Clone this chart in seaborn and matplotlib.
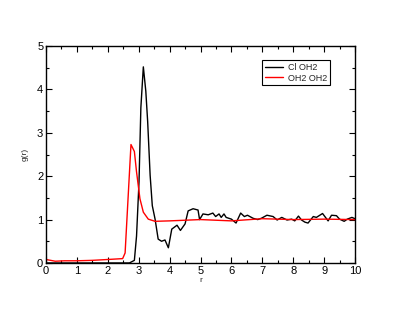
import numpy as np
import pandas as pd
import matplotlib
matplotlib.use("Agg")
import matplotlib.pyplot as plt
import seaborn as sns
from matplotlib.ticker import MultipleLocator

# Cl-OH2 g(r)
cl_r = [0.0, 1.0, 2.0, 2.7, 2.86, 2.93, 3.01, 3.07, 3.15, 3.23, 3.29, 3.37, 3.44, 3.53,
        3.63, 3.74, 3.85, 3.96, 4.07, 4.24, 4.35, 4.5, 4.6, 4.76, 4.92, 4.97, 5.08, 5.25,
        5.4, 5.49, 5.6, 5.67, 5.76, 5.83, 6.0, 6.15, 6.3, 6.42, 6.52, 6.7, 6.85, 6.97,
        7.15, 7.35, 7.48, 7.63, 7.8, 7.95, 8.05, 8.17, 8.27, 8.38, 8.48, 8.65, 8.75, 8.95,
        9.13, 9.24, 9.4, 9.5, 9.65, 9.75, 9.9, 10.0]
cl_g = [0.0, 0.0, 0.0, 0.0, 0.06, 0.62, 1.87, 3.58, 4.52, 3.96, 3.26, 2.02, 1.32, 1.01,
        0.55, 0.5, 0.53, 0.35, 0.78, 0.87, 0.75, 0.9, 1.2, 1.25, 1.22, 1.0, 1.13, 1.11,
        1.15, 1.07, 1.13, 1.05, 1.13, 1.05, 1.01, 0.92, 1.15, 1.07, 1.1, 1.03, 1.0, 1.03,
        1.1, 1.07, 0.99, 1.05, 0.99, 1.01, 0.97, 1.08, 0.99, 0.94, 0.92, 1.07, 1.05, 1.14,
        0.97, 1.1, 1.09, 1.01, 0.96, 1.01, 1.05, 1.02]

# OH2-OH2 g(r)
ow_r = [0.0, 0.15, 0.3, 0.6, 1.0, 1.5, 2.0, 2.48, 2.56, 2.75, 2.86, 2.93, 3.04, 3.15, 3.31,
        3.53, 4.0, 5.0, 6.0, 7.0, 8.0, 9.0, 10.0]
ow_g = [0.08, 0.06, 0.04, 0.05, 0.05, 0.06, 0.08, 0.1, 0.23, 2.73, 2.57, 2.1, 1.48, 1.17,
        1.01, 0.96, 0.97, 1.0, 0.97, 1.02, 1.0, 1.01, 1.0]

labels = ["Cl OH2", "OH2 OH2"]

df = pd.concat([
    pd.DataFrame({"r": cl_r, "g": cl_g, "pair": labels[0]}),
    pd.DataFrame({"r": ow_r, "g": ow_g, "pair": labels[1]}),
])

sns.set_style("ticks")
plt.rcParams['font.family'] = ['Liberation Sans', 'DejaVu Sans']

fig = plt.figure(figsize=(4.0, 3.09), dpi=100)
ax = fig.add_axes([0.115, 0.149, 0.7725, 0.702])
sns.lineplot(data=df, x="r", y="g", hue="pair", palette=["black", "red"],
             linewidth=1.0, ax=ax, sort=False, estimator=None)

ax.set_xlim(0, 10)
ax.set_ylim(0, 5)
ax.xaxis.set_major_locator(MultipleLocator(1))
ax.xaxis.set_minor_locator(MultipleLocator(0.5))
ax.yaxis.set_major_locator(MultipleLocator(1))
ax.yaxis.set_minor_locator(MultipleLocator(0.5))
ax.tick_params(which="both", direction="in", top=True, right=True, width=0.8, colors="black")
ax.tick_params(which="major", length=4, labelsize=8, pad=2)
ax.tick_params(which="minor", length=2)
for s in ax.spines.values():
    s.set_linewidth(1.0)
    s.set_color("black")
ax.set_xlabel("r", fontsize=6, labelpad=1)
ax.set_ylabel("g(r)", fontsize=6, labelpad=6)

leg = ax.legend(loc="upper left", bbox_to_anchor=(0.70, 0.935), fontsize=6.5,
                frameon=True, fancybox=False, edgecolor="black", framealpha=1,
                handlelength=2.0, borderpad=0.3, labelspacing=0.2, handletextpad=0.6,
                borderaxespad=0)
leg.get_frame().set_linewidth(0.8)

fig.savefig("out.png", dpi=100)
